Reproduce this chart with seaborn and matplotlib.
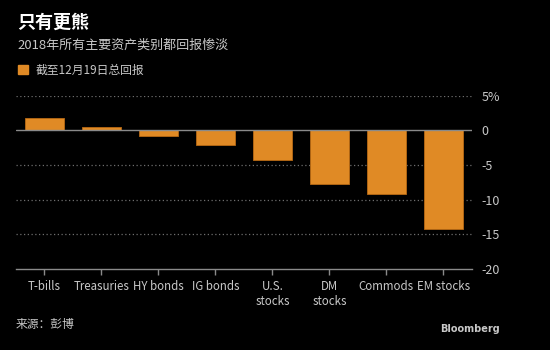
import numpy as np
import pandas as pd
import seaborn as sns
import matplotlib.pyplot as plt
from matplotlib.patches import Patch

# Data (total return through Dec 19, %)
categories = ['T-bills', 'Treasuries', 'HY bonds', 'IG bonds', 'U.S.\nstocks',
              'DM\nstocks', 'Commods', 'EM stocks']
returns = [1.8, 0.5, -0.8, -2.1, -4.3, -7.7, -9.2, -14.2]
y_ticks = [5, 0, -5, -10, -15, -20]
y_tick_labels = ['5%', '0', '-5', '-10', '-15', '-20']

bar_color = '#e08a25'
grid_color = '#6e6e6e'
text_gray = '#c8c8c8'


def main():
    sns.set_style('dark')
    plt.rcParams['font.family'] = ['Noto Sans CJK SC', 'DejaVu Sans']

    df = pd.DataFrame({'asset': categories, 'ret': returns})

    fig = plt.figure(figsize=(5.5, 3.5), dpi=100, facecolor='black')
    ax = fig.add_axes([0.029, 0.2314, 0.829, 0.4952])
    ax.set_facecolor('black')

    sns.barplot(data=df, x='asset', y='ret', color=bar_color, width=0.68,
                saturation=1, edgecolor='#b86a14', linewidth=0.6, ax=ax, zorder=3)

    ax.set_xlim(-0.5, 7.5)
    ax.set_ylim(-20, 5)

    # dotted gridlines, solid zero line
    for v in [5, -5, -10, -15]:
        ax.axhline(v, color=grid_color, linestyle=(0, (1, 2)), linewidth=0.9, zorder=1)
    ax.axhline(0, color='#8a8a8a', linewidth=1.0, zorder=4)

    for s in ['top', 'left', 'right']:
        ax.spines[s].set_visible(False)
    ax.spines['bottom'].set_color('#8a8a8a')
    ax.spines['bottom'].set_linewidth(1.0)

    ax.yaxis.tick_right()
    ax.set_yticks(y_ticks)
    ax.set_yticklabels(y_tick_labels)
    ax.tick_params(axis='y', length=0, pad=7, labelsize=9, labelcolor=text_gray)
    ax.tick_params(axis='x', bottom=True, length=4, width=1, color='#8a8a8a',
                   direction='out', pad=4, labelsize=8.3, labelcolor=text_gray)
    ax.set_xlabel('')
    ax.set_ylabel('')
    ax.grid(False)

    # titles
    fig.text(0.031, 0.935, '只有更熊', color='white', fontsize=13, fontweight='bold', va='center')
    fig.text(0.031, 0.87, '2018年所有主要资产类别都回报惨淡', color=text_gray, fontsize=9.4, va='center')

    fig.legend(handles=[Patch(facecolor=bar_color, edgecolor=bar_color)],
               labels=['截至12月19日总回报'], loc='center left',
               bbox_to_anchor=(0.014, 0.80), frameon=False, fontsize=8.5,
               labelcolor=text_gray, handlelength=0.85, handleheight=0.85,
               handletextpad=0.6)

    fig.text(0.029, 0.072, '来源：彭博', color=text_gray, fontsize=8.5, va='center')
    fig.text(0.909, 0.06, 'Bloomberg', color=text_gray, fontsize=7, fontweight='bold',
             va='center', ha='right', family='DejaVu Sans')

    fig.savefig('out.png', dpi=100, facecolor='black')


if __name__ == "__main__":
    main()
